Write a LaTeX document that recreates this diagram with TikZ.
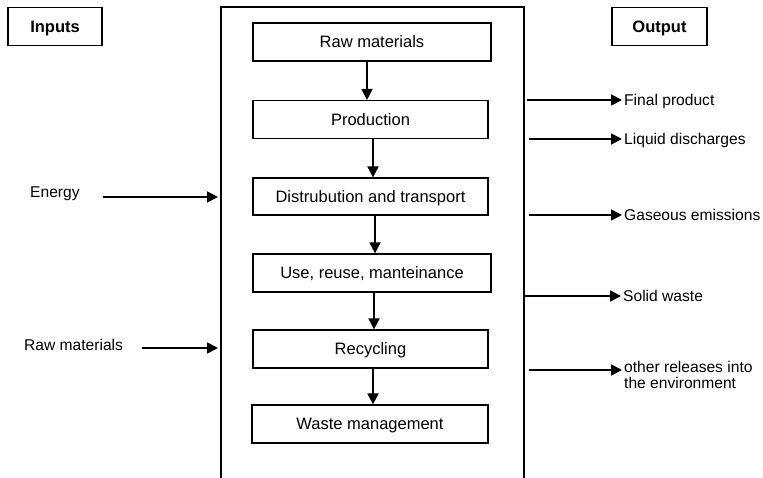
\documentclass[tikz,border=0pt]{standalone}
\usepackage{fontspec}
\setmainfont{Liberation Sans}
\usetikzlibrary{arrows.meta,calc}
\begin{document}
\begin{tikzpicture}[x=1pt,y=-1pt,
  font=\fontsize{16.5}{16.5}\selectfont,
  stepbox/.style={draw, line width=1.2pt, minimum height=38pt, minimum width=236pt, inner sep=0pt, text height=11.8pt, text depth=0pt},
  headbox/.style={draw, line width=1.2pt, minimum height=38pt, minimum width=94pt, inner sep=0pt, text height=11.8pt, text depth=0pt, font=\fontsize{16.5}{16.5}\selectfont\bfseries},
  arr/.style={line width=1.8pt, -{Triangle[length=11pt,width=11pt]}},
  lblml/.style={anchor=west, inner sep=2pt, align=left, font=\fontsize{15.6}{16}\selectfont},
  lbl/.style={lblml, text height=11.2pt, text depth=0pt}]
\useasboundingbox (0,0) rectangle (763,478);

% frame
\coordinate (fbl) at (221,478);
\coordinate (ftl) at (221,7);
\coordinate (ftr) at (524,7);
\coordinate (fbr) at (524,478);
\draw[line width=1.4pt] (fbl) -- (ftl) -- (ftr) -- (fbr);

% header boxes
\node[headbox] (inputs) at (55,26.5) {Inputs};
\node[headbox, minimum width=95pt] (output) at (659.5,26.5) {Output};

% process boxes
\node[stepbox, minimum width=238pt] (raw) at (372,42) {Raw materials};
\node[stepbox, minimum width=235pt] (prod) at (370.5,119.5) {Production};
\node[stepbox, minimum width=235pt, minimum height=37pt] (dist) at (370.5,196.5) {Distrubution and transport};
\node[stepbox, minimum width=238pt] (use) at (372,273) {Use, reuse, manteinance};
\node[stepbox, minimum width=235pt] (rec) at (370.5,349) {Recycling};
\node[stepbox] (waste) at (370,424) {Waste management};

% vertical arrows
\path (raw.south) ++(-5,0) coordinate (a1);
\draw[arr] (a1) -- (a1 |- prod.north);
\path (prod.south) ++(2.5,0) coordinate (a2);
\draw[arr] (a2) -- (a2 |- dist.north);
\path (dist.south) ++(4.5,0) coordinate (a3);
\draw[arr] (a3) -- (a3 |- use.north);
\path (use.south) ++(2,0) coordinate (a4);
\draw[arr] (a4) -- (a4 |- rec.north);
\path (rec.south) ++(2.5,0) coordinate (a5);
\draw[arr] (a5) -- (a5 |- waste.north);

% inputs
\node[lbl] (energy) at (28,192) {Energy};
\coordinate (eS) at (103,197);
\coordinate (eE) at (218,197);
\draw[arr] (eS) -- (eE);
\node[lbl] (rawin) at (22,345) {Raw materials};
\coordinate (rS) at (142,348);
\coordinate (rE) at (218,348);
\draw[arr] (rS) -- (rE);

% outputs
\node[lbl] (fp) at (622,100) {Final product};
\coordinate (o1) at (527,100);
\draw[arr] (o1) -- (fp.west);
\node[lbl] (ld) at (622,139) {Liquid discharges};
\coordinate (o2) at (529,139);
\draw[arr] (o2) -- (ld.west);
\node[lbl] (ge) at (622,215) {Gaseous emissions};
\coordinate (o3) at (529,215);
\draw[arr] (o3) -- (ge.west);
\node[lbl] (sw) at (621,296) {Solid waste};
\coordinate (o4) at (525,296);
\draw[arr] (o4) -- (sw.west);
\node[lblml] (ot) at (622,374.5) {other releases into\\the environment};
\coordinate (o5) at (529,370);
\draw[arr] (o5) -- ($(ot.west)+(0,-4.5)$);
\end{tikzpicture}
\end{document}
